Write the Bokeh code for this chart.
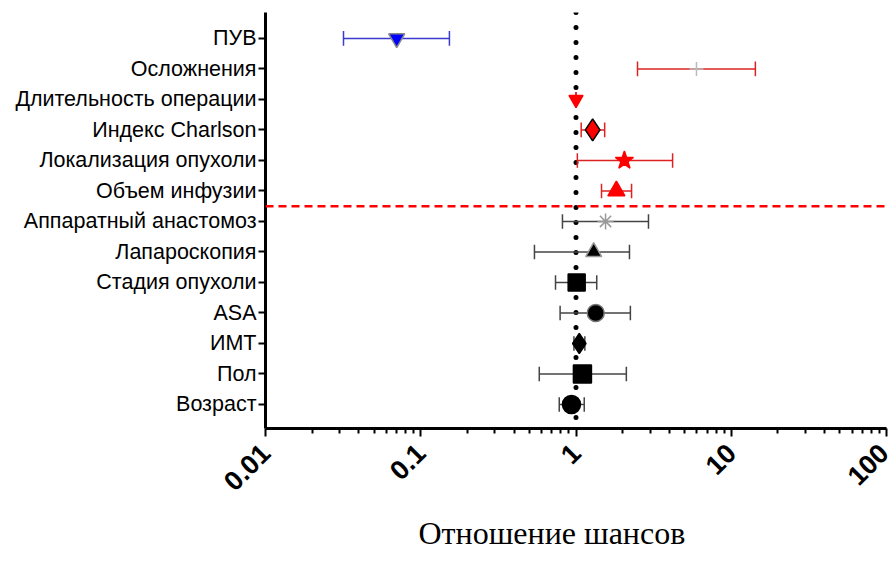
from bokeh.plotting import figure
from bokeh.models import Range1d, FixedTicker, Span, ColumnDataSource, Title
from bokeh.embed import file_html
from bokeh.resources import INLINE
import math

labels = ["Возраст", "Пол", "ИМТ", "ASA", "Стадия опухоли", "Лапароскопия",
          "Аппаратный анастомоз", "Объем инфузии", "Локализация опухоли",
          "Индекс Charlson", "Длительность операции", "Осложнения", "ПУВ"]
odds = [0.935, 1.10, 1.05, 1.34, 1.01, 1.30, 1.55, 1.82, 2.05, 1.28, 1.0, 5.97, 0.07]
ci_low = [0.78, 0.58, 0.97, 0.79, 0.738, 0.54, 0.818, 1.46, 1.02, 1.08, 1.0, 2.49, 0.0318]
ci_high = [1.13, 2.11, 1.14, 2.24, 1.36, 2.21, 2.93, 2.28, 4.19, 1.53, 1.0, 14.3, 0.153]
markers = ["circle", "square", "diamond", "circle", "square", "triangle", "asterisk",
           "triangle", "star", "diamond", "inverted_triangle", "cross", "inverted_triangle"]
marker_fill = ["black", "black", "black", "black", "black", "black", "#999999",
               "red", "red", "red", "red", "#bbbbbb", "blue"]
marker_line = ["black", "black", "black", "#777777", "black", "#999999", "#999999",
               "red", "red", "black", "red", "#bbbbbb", "#888888"]
marker_size = [18, 18, 20, 17, 17, 16, 16, 17, 19, 22, 14, 14, 16]
bar_color = ["#444444"] * 7 + ["#dd2222"] * 5 + ["#3b3bcc"]
x_ticks = [0.01, 0.1, 1, 10, 100]
x_tick_labels = ["0.01", "0.1", "1", "10", "100"]
x_title = "Отношение шансов"

rows = list(range(1, len(labels) + 1))
cap = 0.24
src = ColumnDataSource(dict(y=rows, x=odds, lo=ci_low, hi=ci_high,
                            ylo=[r - cap for r in rows], yhi=[r + cap for r in rows],
                            marker=markers, fill=marker_fill, line=marker_line,
                            size=marker_size, bar=bar_color))

p = figure(width=890, height=562, x_axis_type="log", output_backend="svg",
           toolbar_location=None, x_range=Range1d(0.01, 100), y_range=Range1d(0.213, 13.85),
           min_border_left=265, min_border_right=4, min_border_top=12, min_border_bottom=134)
p.outline_line_color = None
p.xgrid.visible = False
p.ygrid.visible = False

# vertical dotted line at OR = 1
vline = Span(location=1, dimension="height", line_color="black", line_width=5,
             line_dash="0 15", line_cap="round", level="underlay")
p.add_layout(vline)

# error bars
p.segment(x0="lo", x1="hi", y0="y", y1="y", source=src, line_color="bar", line_width=1.5)
p.segment(x0="lo", x1="lo", y0="ylo", y1="yhi", source=src, line_color="bar", line_width=1.5)
p.segment(x0="hi", x1="hi", y0="ylo", y1="yhi", source=src, line_color="bar", line_width=1.5)

# red dashed separator
hline = Span(location=7.5, dimension="width", line_color="red", line_width=2.5,
             line_dash="8 5")
p.add_layout(hline)

p.scatter(x="x", y="y", marker="marker", size="size", fill_color="fill",
          line_color="line", line_width=1.5, source=src)

# x axis
xa = p.xaxis[0]
minor = []
for k in range(-2, 2):
    for m in range(2, 10):
        minor.append(m * 10 ** k)
xa.ticker = FixedTicker(ticks=x_ticks, minor_ticks=minor)
xa.major_label_overrides = {t: l for t, l in zip(x_ticks, x_tick_labels)}
xa.major_label_orientation = math.pi / 4
xa.major_label_text_font = "Liberation Sans"
xa.major_label_text_font_style = "bold"
xa.major_label_text_font_size = "27px"
xa.major_label_text_color = "black"
xa.major_label_standoff = 12
xa.axis_line_width = 3
xa.major_tick_line_width = 2
xa.minor_tick_line_width = 2
xa.major_tick_out = 8
xa.major_tick_in = 0
xa.minor_tick_out = 5
xa.minor_tick_in = 0

t = Title(text=x_title, align="left", offset=153, standoff=21,
          text_font="Liberation Serif", text_font_style="normal",
          text_font_size="32px", text_color="black")
p.add_layout(t, "below")

# y axis
ya = p.yaxis[0]
ya.ticker = FixedTicker(ticks=rows)
ya.major_label_overrides = {r: l for r, l in zip(rows, labels)}
ya.major_label_text_font = "Liberation Sans"
ya.major_label_text_font_size = "21.5px"
ya.major_label_text_color = "black"
ya.axis_line_width = 3
ya.major_tick_line_width = 2
ya.major_tick_out = 7
ya.major_tick_in = 0
ya.minor_tick_out = 0
ya.minor_tick_in = 0
ya.major_label_standoff = 2

open("out.html", "w").write(file_html(p, INLINE))
